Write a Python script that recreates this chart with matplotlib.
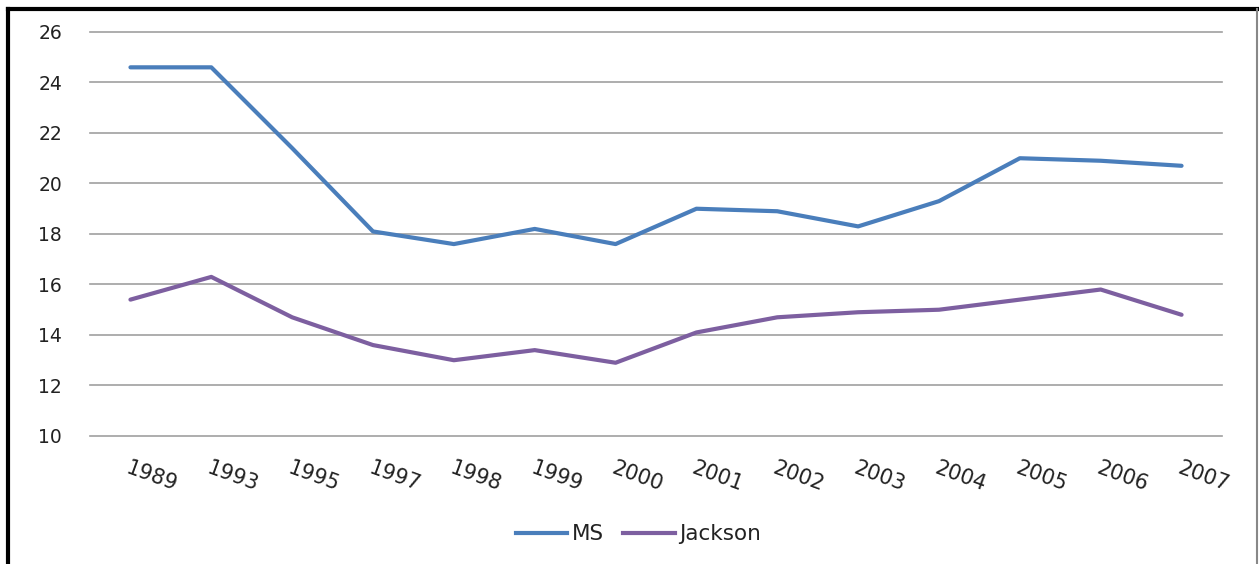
import matplotlib
matplotlib.use("Agg")
import matplotlib.pyplot as plt
from matplotlib.lines import Line2D

years = ["1989", "1993", "1995", "1997", "1998", "1999", "2000", "2001",
         "2002", "2003", "2004", "2005", "2006", "2007"]
ms = [24.6, 24.6, 21.4, 18.1, 17.6, 18.2, 17.6, 19.0, 18.9, 18.3, 19.3, 21.0, 20.9, 20.7]
jackson = [15.4, 16.3, 14.7, 13.6, 13.0, 13.4, 12.9, 14.1, 14.7, 14.9, 15.0, 15.4, 15.8, 14.8]
yticks = [10, 12, 14, 16, 18, 20, 22, 24, 26]

plt.rcParams['font.family'] = ['DejaVu Sans']
fig = plt.figure(figsize=(12.59, 5.64), dpi=100)
ax = fig.add_axes([0.0715, 0.227, 0.8991, 0.7163])

x = list(range(len(years)))
ax.plot(x, ms, color="#4a7ebb", lw=3, label="MS", solid_capstyle="round")
ax.plot(x, jackson, color="#7d5fa0", lw=3, label="Jackson", solid_capstyle="round")

ax.set_xlim(-0.5, len(years) - 0.5)
ax.set_ylim(10, 26)
ax.set_yticks(yticks)
ax.set_yticklabels([str(v) for v in yticks], fontsize=13.5, color="#222222")
ax.set_xticks(x)
ax.set_xticklabels(years, rotation=-20, fontsize=15, color="#222222",
                   ha="left", va="top", rotation_mode="anchor")
ax.tick_params(axis="both", length=0)
ax.tick_params(axis="y", pad=20)
ax.tick_params(axis="x", pad=16)
for s in ax.spines.values():
    s.set_visible(False)
ax.grid(False)
for v in yticks:
    ax.axhline(v, color="#a0a0a0", lw=1.2, clip_on=False, zorder=0)

handles = [Line2D([0], [0], color="#4a7ebb", lw=3), Line2D([0], [0], color="#7d5fa0", lw=3)]
fig.legend(handles, ["MS", "Jackson"], loc="center", bbox_to_anchor=(0.507, 0.053),
           ncol=2, frameon=False, fontsize=15.5, handlelength=2.4, handletextpad=0.2,
           columnspacing=0.9, labelcolor="#222222")

# outer frame
fig.add_artist(Line2D([8/1259, 8/1259], [0, 1 - 9/564], transform=fig.transFigure, color="black", lw=3))
fig.add_artist(Line2D([8/1259, 1257/1259], [1 - 9/564, 1 - 9/564], transform=fig.transFigure, color="black", lw=3))
fig.add_artist(Line2D([1257/1259, 1257/1259], [0, 1 - 9/564], transform=fig.transFigure, color="#888888", lw=1.5))

fig.savefig("out.png", dpi=100)
